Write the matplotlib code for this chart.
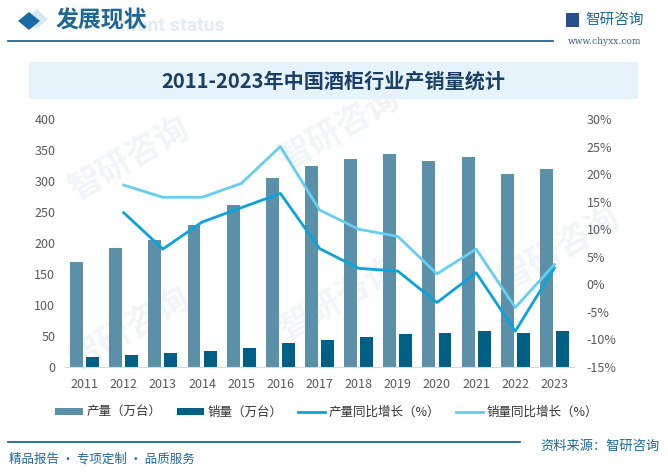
import numpy as np
import matplotlib
matplotlib.use('Agg')
from matplotlib import pyplot as plt
from matplotlib.patches import Rectangle, Polygon
from matplotlib.ticker import MultipleLocator, FuncFormatter

plt.rcParams['font.family'] = ['Noto Sans CJK SC', 'DejaVu Sans']

years = ['2011', '2012', '2013', '2014', '2015', '2016', '2017',
         '2018', '2019', '2020', '2021', '2022', '2023']
output = [169, 192, 205, 229, 261, 305, 324, 335, 343, 332, 338, 311, 319]
sales = [15.6, 18.8, 22, 25.3, 30, 38, 43, 48, 52.7, 54.4, 57.6, 54.4, 57.6]
output_growth = [np.nan, 13.0, 6.4, 11.3, 13.9, 16.5, 6.5, 2.9, 2.4, -3.3, 2.1, -8.5, 3.0]
sales_growth = [np.nan, 18.0, 15.8, 15.8, 18.3, 25.0, 13.5, 10.0, 8.7, 1.9, 6.4, -4.2, 3.6]

blue_dark = '#1F6796'
c_output = '#5B90A8'
c_sales = '#005F85'
c_og = '#0AA3DB'
c_sg = '#66CDF3'

W, H = 668, 473
fig = plt.figure(figsize=(W / 100, H / 100), dpi=100)


def fx(px):
    return px / W


def fy(py):
    return 1 - py / H


# faint watermarks, behind the chart
for (x, y) in [(130, 160), (340, 130), (130, 330), (340, 300), (560, 250)]:
    fig.text(fx(x), fy(y), '智研咨询', fontsize=24, color='#F1F5F8', rotation=30,
             ha='center', va='center', fontweight='bold', zorder=-1)

# header
fig.text(fx(120), fy(26), 'ment status', fontsize=14, color='#E1ECF4',
         fontweight='bold', va='center', ha='left', family='Roboto', zorder=1)
fig.patches.append(Polygon([[fx(26), fy(19)], [fx(37), fy(9)], [fx(48), fy(19)], [fx(37), fy(29)]],
                           closed=True, transform=fig.transFigure, facecolor='#D9E8F3',
                           edgecolor='none', zorder=1))
fig.patches.append(Polygon([[fx(18), fy(21)], [fx(29), fy(12)], [fx(40), fy(21)], [fx(29), fy(30)]],
                           closed=True, transform=fig.transFigure, facecolor='#1A6AA6',
                           edgecolor='none', zorder=2))
fig.text(fx(56), fy(21), '发展现状', fontsize=16.5, color=blue_dark, fontweight='bold',
         va='center', ha='left', zorder=3)
fig.add_artist(plt.Line2D([fx(8), fx(553)], [fy(41), fy(41)], color=blue_dark, lw=1.3))

# logo
fig.patches.append(Rectangle((fx(566), fy(27)), fx(13), 14 / H, transform=fig.transFigure,
                             facecolor='#2A4F8F', edgecolor='none'))
fig.text(fx(585), fy(20), '智研咨询', fontsize=10.5, color=blue_dark, va='center', ha='left')
fig.text(fx(568), fy(41), 'www.chyxx.com', fontsize=6.5, color='#3F5F7F', va='center',
         ha='left', family='DejaVu Serif')

# title box
fig.patches.append(Rectangle((fx(29), fy(99)), fx(609), 37 / H, transform=fig.transFigure,
                             facecolor='#E6F3FB', edgecolor='none', zorder=1))
fig.text(fx(333), fy(81), '2011-2023年中国酒柜行业产销量统计', fontsize=14.5, color='#1B3F66',
         fontweight='bold', va='center', ha='center', zorder=2)

# main axes
ax = fig.add_axes([fx(65), fy(367), fx(509), (367 - 119) / H])
ax.patch.set_alpha(0)
x = np.arange(len(years))
bw = 0.33
ax.bar(x - 0.205, output, width=bw, color=c_output, label='产量（万台）', zorder=2)
ax.bar(x + 0.205, sales, width=bw, color=c_sales, label='销量（万台）', zorder=2)
ax.set_xlim(-0.5, 12.5)
ax.set_ylim(0, 400)
ax.yaxis.set_major_locator(MultipleLocator(50))
ax.set_xticks(x)
ax.set_xticklabels(years)
for s in ['top', 'right', 'left']:
    ax.spines[s].set_visible(False)
ax.spines['bottom'].set_color('#D9D9D9')
ax.tick_params(axis='both', length=0, labelsize=9, colors='#595959')
ax.tick_params(axis='y', pad=7)
ax.tick_params(axis='x', pad=8)

ax2 = ax.twinx()
ax2.plot(x, output_growth, color=c_og, lw=2.0, label='产量同比增长（%）', zorder=3)
ax2.plot(x, sales_growth, color=c_sg, lw=2.0, label='销量同比增长（%）', zorder=3)
ax2.set_ylim(-15, 30)
ax2.yaxis.set_major_locator(MultipleLocator(5))
ax2.yaxis.set_major_formatter(FuncFormatter(lambda v, p: f'{v:.0f}%'))
for s in ax2.spines.values():
    s.set_visible(False)
ax2.tick_params(axis='y', length=0, labelsize=9, colors='#595959', pad=9)

h1, l1 = ax.get_legend_handles_labels()
h2, l2 = ax2.get_legend_handles_labels()
fig.legend(h1 + h2, l1 + l2, loc='center left', bbox_to_anchor=(fx(44), fy(412)), ncol=4,
           frameon=False, fontsize=9, handlelength=2.2, handleheight=0.5, columnspacing=1.2,
           handletextpad=0.3, labelcolor='#333333')

# footer
fig.add_artist(plt.Line2D([fx(8), fx(520)], [fy(442), fy(442)], color=blue_dark, lw=1.3))
fig.text(fx(660), fy(446), '资料来源：智研咨询', fontsize=9.5, color=blue_dark, va='center', ha='right')
fig.text(fx(9), fy(459), '精品报告 · 专项定制 · 品质服务', fontsize=9, color=blue_dark,
         va='center', ha='left')

fig.savefig('out.png', dpi=100)
